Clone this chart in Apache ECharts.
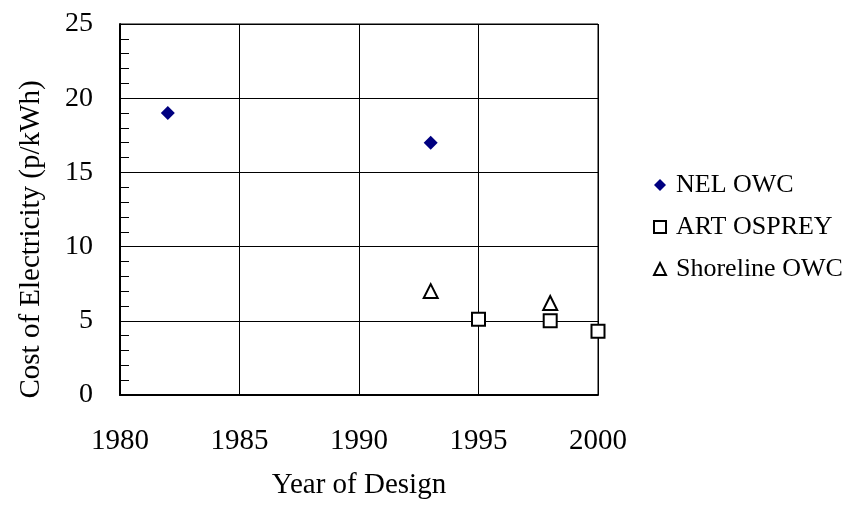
<!DOCTYPE html>
<html>
<head>
<meta charset="utf-8">
<script src="https://cdn.jsdelivr.net/npm/echarts@6/dist/echarts.min.js"></script>
<style>
  html, body { margin: 0; padding: 0; background: #fff; }
  #main { width: 842px; height: 505px; }
</style>
</head>
<body>
<div id="main"></div>
<script>
// data
var nelOwc = [[1982, 19.0], [1993, 17.0]];
var artOsprey = [[1995, 5.1], [1998, 5.0], [2000, 4.3]];
var shorelineOwc = [[1993, 7.0], [1998, 6.2]];
var seriesNames = ['NEL OWC', 'ART OSPREY', 'Shoreline OWC'];

var font = 'Liberation Serif';
var myChart = echarts.init(document.getElementById('main'));

var option = {
    backgroundColor: '#fff',
    animation: false,
    grid: {
        left: 120,
        top: 24,
        right: 244,
        bottom: 110,
        show: true,
        borderColor: '#000',
        borderWidth: 1
    },
    legend: {
        orient: 'vertical',
        left: 648,
        top: 167,
        itemGap: 16,
        itemWidth: 12,
        itemHeight: 12,
        textStyle: { fontFamily: font, fontSize: 26, color: '#000', padding: [0, 0, 0, 5] },
        data: [
            { name: seriesNames[0], icon: 'diamond' },
            { name: seriesNames[1], icon: 'rect' },
            { name: seriesNames[2], icon: 'triangle' }
        ]
    },
    xAxis: {
        type: 'value',
        min: 1980,
        max: 2000,
        interval: 5,
        name: 'Year of Design',
        nameLocation: 'middle',
        nameGap: 76,
        nameTextStyle: { fontFamily: font, fontSize: 29, color: '#000' },
        axisLine: { lineStyle: { color: '#000', width: 2 } },
        axisTick: { show: false },
        axisLabel: {
            fontFamily: font, fontSize: 29, color: '#000', margin: 32,
            formatter: function (v) { return String(v); }
        },
        splitLine: { show: true, lineStyle: { color: '#000', width: 1 } }
    },
    yAxis: {
        type: 'value',
        min: 0,
        max: 25,
        interval: 5,
        name: 'Cost of Electricity (p/kWh)',
        nameLocation: 'middle',
        nameGap: 74,
        nameTextStyle: { fontFamily: font, fontSize: 29, color: '#000', padding: [0, 60, 0, 0] },
        axisLine: { lineStyle: { color: '#000', width: 2 } },
        axisTick: { show: false },
        minorTick: { show: true, splitNumber: 5, length: -9, lineStyle: { color: '#000', width: 1 } },
        axisLabel: { fontFamily: font, fontSize: 28, color: '#000', margin: 27 },
        splitLine: { show: true, lineStyle: { color: '#000', width: 1 } }
    },
    series: [
        {
            name: seriesNames[0],
            type: 'scatter',
            symbol: 'diamond',
            symbolSize: 14,
            itemStyle: { color: '#000080', opacity: 1 },
            data: nelOwc
        },
        {
            name: seriesNames[1],
            type: 'scatter',
            symbol: 'rect',
            symbolSize: 13,
            itemStyle: { color: '#fff', borderColor: '#000', borderWidth: 2, opacity: 1 },
            data: artOsprey
        },
        {
            name: seriesNames[2],
            type: 'scatter',
            symbol: 'triangle',
            symbolSize: 14,
            itemStyle: { color: '#fff', borderColor: '#000', borderWidth: 2, opacity: 1 },
            data: shorelineOwc
        }
    ]
};

myChart.setOption(option);
window.onresize = function () {
    myChart.resize();
};
</script>
</body>
</html>
